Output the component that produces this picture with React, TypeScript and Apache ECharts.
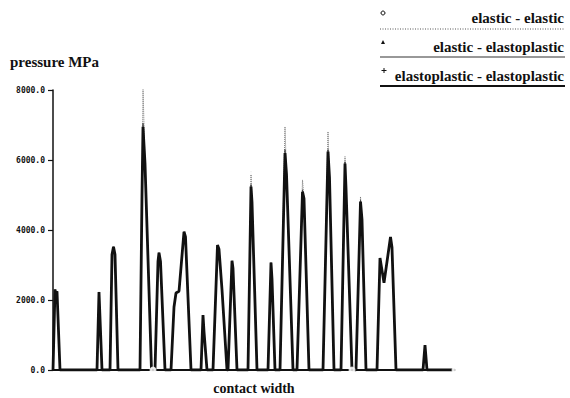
import React, { useEffect, useRef } from "react";
import * as echarts from "echarts";

// contact width positions (arbitrary units along the contact)
const contactX = [
  0, 2, 3, 4, 7,
  44, 46, 49,
  57, 59, 60.5, 62, 65,
  87, 89, 90, 92, 98.5,
  100, 102, 105, 106, 107.5, 112,
  118, 121, 123, 126, 131, 132.5, 138,
  148, 150, 151, 154,
  160, 164.5, 166, 169, 174,
  175, 179, 180, 184,
  195, 198, 199, 204,
  215, 218, 219, 222,
  227, 232, 233.5, 240,
  244, 249.5, 251, 256,
  270, 275, 276.5, 281,
  288, 292, 293, 299,
  303, 307.5, 309, 313,
  324, 327, 331, 337.5, 339, 343,
  370, 372, 374,
  402,
];

// elastoplastic - elastoplastic (thick line)
const pressureEpEp = [
  0, 2300, 2150, 2250, 0,
  0, 2230, 0,
  0, 3300, 3520, 3300, 0,
  0, 5000, 6950, 5900, 0,
  0, 0, 3100, 3350, 3100, 0,
  0, 1800, 2200, 2250, 3950, 3800, 0,
  0, 1570, 1100, 0,
  0, 3570, 3450, 2300, 0,
  0, 3120, 2900, 0,
  0, 5240, 4800, 0,
  0, 3070, 2600, 0,
  0, 6200, 5600, 0,
  0, 5090, 4900, 0,
  0, 6240, 5500, 0,
  0, 5900, 5200, 0,
  0, 4810, 4300, 0,
  0, 3200, 2490, 3800, 3500, 0,
  0, 714, 0,
  0,
];

// elastic - elastic (dotted line, higher peaks)
const pressureElEl = [
  0, 2300, 2150, 2250, 0,
  0, 2230, 0,
  0, 3300, 3520, 3300, 0,
  0, 5000, 8100, 5900, 0,
  0, 0, 3100, 3350, 3100, 0,
  0, 1800, 2200, 2250, 3950, 3800, 0,
  0, 1570, 1100, 0,
  0, 3570, 3450, 2300, 0,
  0, 3120, 2900, 0,
  0, 5670, 4800, 0,
  0, 3070, 2600, 0,
  0, 6950, 5600, 0,
  0, 5430, 4900, 0,
  0, 6810, 5500, 0,
  0, 6100, 5200, 0,
  0, 4950, 4300, 0,
  0, 3200, 2490, 3800, 3500, 0,
  0, 714, 0,
  0,
];

// elastic - elastoplastic (thin line, in between)
const pressureElEp = [
  0, 2300, 2150, 2250, 0,
  0, 2230, 0,
  0, 3300, 3520, 3300, 0,
  0, 5000, 7050, 5900, 0,
  0, 0, 3100, 3350, 3100, 0,
  0, 1800, 2200, 2250, 3950, 3800, 0,
  0, 1570, 1100, 0,
  0, 3570, 3450, 2300, 0,
  0, 3120, 2900, 0,
  0, 5300, 4800, 0,
  0, 3070, 2600, 0,
  0, 6300, 5600, 0,
  0, 5150, 4900, 0,
  0, 6300, 5500, 0,
  0, 5950, 5200, 0,
  0, 4850, 4300, 0,
  0, 3200, 2490, 3800, 3500, 0,
  0, 714, 0,
  0,
];

// x positions where the elastic - elastic series shows its circle symbol
const circleAt = [100, 198, 299, 402];

const yTicks = [0, 2000, 4000, 6000, 8000];

const seriesNames = [
  "elastic - elastic",
  "elastic - elastoplastic",
  "elastoplastic - elastoplastic",
];

const serif = "Liberation Serif";

export default function App() {
  const ref = useRef<HTMLDivElement>(null);

  useEffect(() => {
    if (!ref.current) return;
    const chart = echarts.init(ref.current, undefined, { renderer: "svg" });

    const legendText = (text: string, y: number) => ({
      type: "text",
      x: 564,
      y,
      style: {
        text,
        fontFamily: serif,
        fontSize: 15,
        fontWeight: "bold",
        fill: "#111",
        align: "right",
        verticalAlign: "middle",
      },
    });

    const circlePoints = circleAt.map((x) => [
      x,
      pressureElEl[contactX.indexOf(x)],
    ]);

    chart.setOption({
      animation: false,
      backgroundColor: "#ffffff",
      grid: {
        left: 53,
        right: 115,
        top: 90,
        bottom: 28,
        containLabel: false,
        outerBoundsMode: "none",
      },
      xAxis: {
        type: "value",
        min: 0,
        max: 402,
        name: "contact width",
        nameLocation: "middle",
        nameGap: 11,
        nameTextStyle: {
          fontFamily: serif,
          fontSize: 14,
          fontWeight: "bold",
          color: "#111",
        },
        axisLine: { show: true, lineStyle: { color: "#111", width: 1.8 } },
        axisTick: { show: false },
        axisLabel: { show: false },
        splitLine: { show: false },
      },
      yAxis: {
        type: "value",
        min: yTicks[0],
        max: yTicks[yTicks.length - 1],
        interval: 2000,
        axisLine: { show: true, lineStyle: { color: "#111", width: 1.5 } },
        axisTick: {
          show: true,
          length: 5,
          lineStyle: { color: "#111", width: 1.2 },
        },
        axisLabel: {
          margin: 8,
          fontFamily: "DejaVu Sans Mono",
          fontWeight: "bold",
          fontSize: 8,
          color: "#111",
          formatter: (v: number) => v.toFixed(1),
        },
        splitLine: { show: false },
      },
      series: [
        {
          name: seriesNames[0],
          type: "line",
          data: contactX.map((x, i) => [x, pressureElEl[i]]),
          symbol: "none",
          lineStyle: { color: "#777", width: 1, type: "dotted" },
          z: 2,
        },
        {
          name: seriesNames[1],
          type: "line",
          data: contactX.map((x, i) => [x, pressureElEp[i]]),
          symbol: "none",
          lineStyle: { color: "#444", width: 1 },
          z: 3,
        },
        {
          name: seriesNames[2],
          type: "line",
          data: contactX.map((x, i) => [x, pressureEpEp[i]]),
          symbol: "none",
          lineStyle: { color: "#111", width: 2.8 },
          z: 4,
        },
        {
          name: seriesNames[0],
          type: "scatter",
          data: circlePoints,
          symbol: "emptyCircle",
          symbolSize: 5,
          itemStyle: { color: "#fff", borderColor: "#111", borderWidth: 1 },
          z: 6,
        },
      ],
      graphic: [
        {
          type: "text",
          x: 10,
          y: 62,
          style: {
            text: "pressure MPa",
            fontFamily: serif,
            fontSize: 15,
            fontWeight: "bold",
            fill: "#111",
            verticalAlign: "middle",
          },
        },
        // legend
        {
          type: "circle",
          shape: { cx: 383, cy: 13, r: 2 },
          style: { fill: "#fff", stroke: "#111", lineWidth: 1 },
        },
        legendText(seriesNames[0], 18),
        {
          type: "line",
          shape: { x1: 380, y1: 29, x2: 565, y2: 29 },
          style: { stroke: "#555", lineWidth: 1, lineDash: [1, 1.5] },
        },
        {
          type: "polygon",
          shape: { points: [[383, 40], [381, 44], [385, 44]] },
          style: { fill: "#111" },
        },
        legendText(seriesNames[1], 47),
        {
          type: "line",
          shape: { x1: 380, y1: 57, x2: 565, y2: 57 },
          style: { stroke: "#333", lineWidth: 1.2 },
        },
        {
          type: "line",
          shape: { x1: 384, y1: 68, x2: 384, y2: 73 },
          style: { stroke: "#111", lineWidth: 1 },
        },
        {
          type: "line",
          shape: { x1: 381.5, y1: 70.5, x2: 386.5, y2: 70.5 },
          style: { stroke: "#111", lineWidth: 1 },
        },
        legendText(seriesNames[2], 76),
        {
          type: "line",
          shape: { x1: 380, y1: 86, x2: 565, y2: 86 },
          style: { stroke: "#111", lineWidth: 2 },
        },
      ],
    });

    return () => chart.dispose();
  }, []);

  return (
    <div
      ref={ref}
      style={{
        position: "fixed",
        left: 0,
        top: 0,
        width: 570,
        height: 398,
        background: "#fff",
      }}
    />
  );
}
